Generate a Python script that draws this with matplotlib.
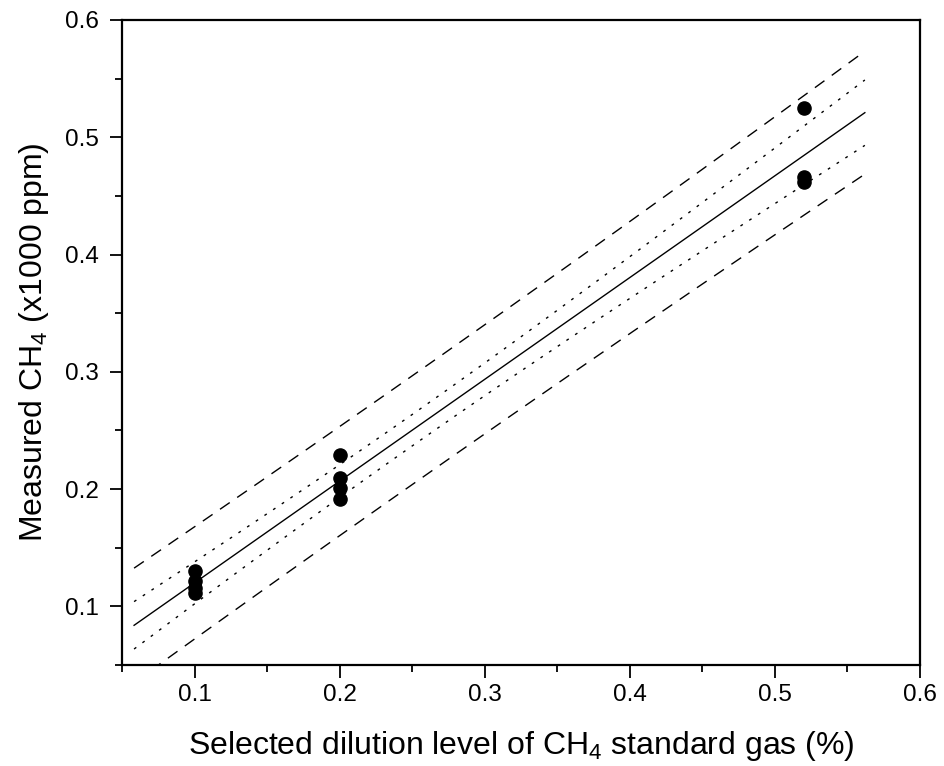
import matplotlib
matplotlib.use("Agg")
import matplotlib.pyplot as plt
import numpy as np
from matplotlib.ticker import MultipleLocator

plt.rcParams['font.family'] = ['Liberation Sans', 'DejaVu Sans']
plt.rcParams['mathtext.fontset'] = 'custom'
plt.rcParams['mathtext.rm'] = 'Liberation Sans'

# dilution level (%) and measured CH4 (x1000 ppm)
dilution = [0.1, 0.1, 0.1, 0.1,
            0.2, 0.2, 0.2, 0.2,
            0.52, 0.52, 0.52]
measured = [0.130, 0.122, 0.116, 0.111,
            0.229, 0.2095, 0.2005, 0.1915,
            0.525, 0.466, 0.462]

x_ticks = [0.1, 0.2, 0.3, 0.4, 0.5, 0.6]
y_ticks = [0.1, 0.2, 0.3, 0.4, 0.5, 0.6]
t_975 = 2.262  # two-sided 95 %, 9 degrees of freedom

x = np.array(dilution)
y = np.array(measured)
n = len(x)

# linear fit with 95 % confidence and prediction bands
slope, intercept = np.polyfit(x, y, 1)
resid = y - (slope * x + intercept)
s = np.sqrt(np.sum(resid ** 2) / (n - 2))
xm = x.mean()
sxx = np.sum((x - xm) ** 2)
span = x.max() - x.min()
xf = np.linspace(x.min() - 0.1 * span, x.max() + 0.1 * span, 200)
yf = slope * xf + intercept
conf = t_975 * s * np.sqrt(1 / n + (xf - xm) ** 2 / sxx)
pred = t_975 * s * np.sqrt(1 + 1 / n + (xf - xm) ** 2 / sxx)

fig = plt.figure(figsize=(9.45, 7.66), dpi=100)
ax = fig.add_axes([0.1296, 0.1319, 0.8439, 0.842])

dot = (0, (2, 5.5))
dash = (0, (8.5, 6.5))
ax.plot(xf, yf, color='black', lw=1.0)
ax.plot(xf, yf + conf, color='black', lw=1.0, linestyle=dot)
ax.plot(xf, yf - conf, color='black', lw=1.0, linestyle=dot)
ax.plot(xf, yf + pred, color='black', lw=1.0, linestyle=dash)
ax.plot(xf, yf - pred, color='black', lw=1.0, linestyle=dash)
ax.scatter(x, y, s=90, color='black', zorder=3)

ax.set_xlim(0.05, 0.6)
ax.set_ylim(0.05, 0.6)
ax.set_xticks(x_ticks)
ax.set_yticks(y_ticks)
ax.xaxis.set_minor_locator(MultipleLocator(0.05))
ax.yaxis.set_minor_locator(MultipleLocator(0.05))
ax.tick_params(which='major', direction='out', length=9, width=1.3,
               top=False, right=False)
ax.tick_params(which='minor', direction='out', length=5, width=1.3,
               top=False, right=False)
ax.tick_params(axis='y', pad=8)
ax.tick_params(axis='x', pad=5)
for lab in ax.get_xticklabels() + ax.get_yticklabels():
    lab.set_fontsize(17.5)
for sp in ax.spines.values():
    sp.set_linewidth(1.6)

ax.set_xlabel('Selected dilution level of CH$_4$ standard gas (%)',
              fontsize=23, labelpad=16)
ax.set_ylabel('Measured CH$_4$ (x1000 ppm)', fontsize=23, labelpad=10)

fig.savefig('out.png', dpi=100)
